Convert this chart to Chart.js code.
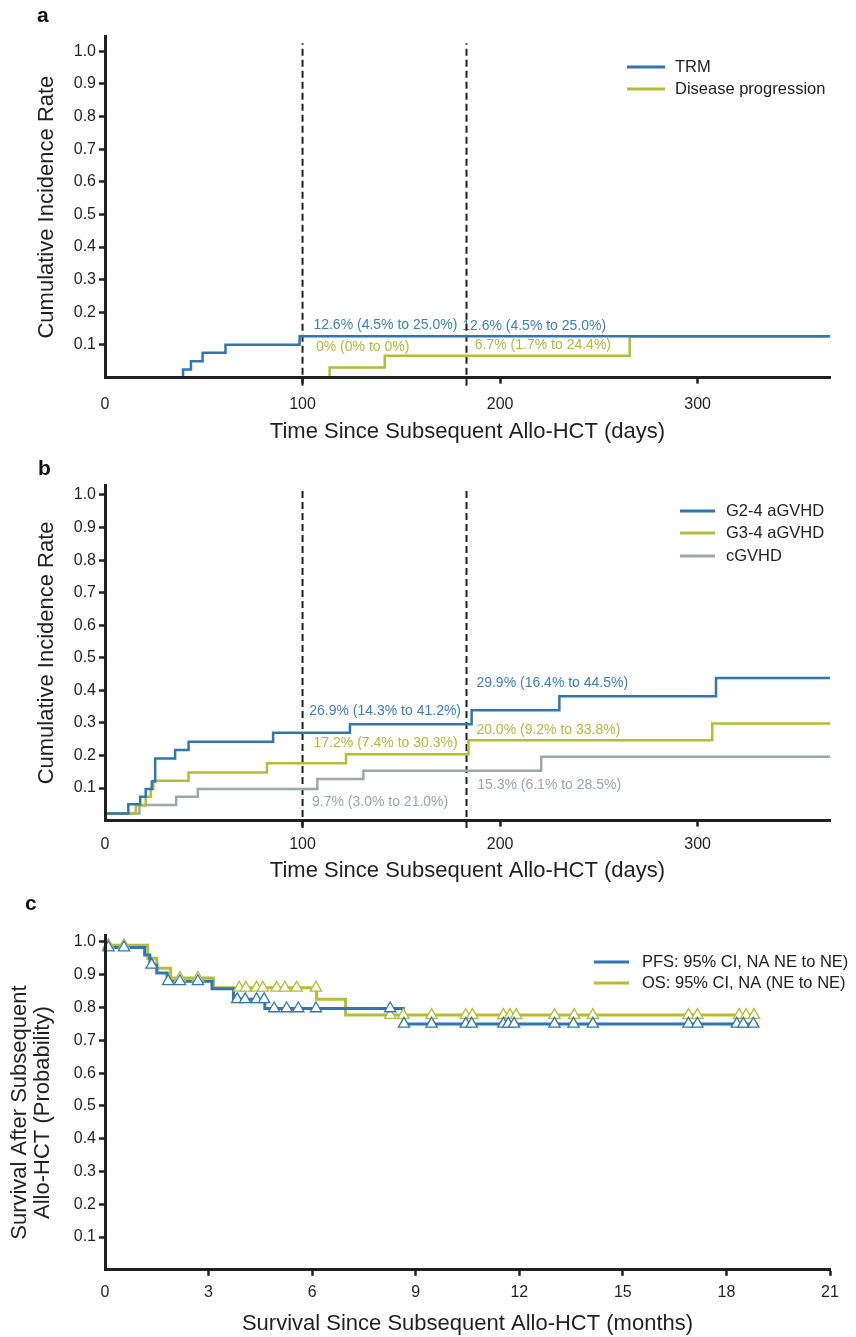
<!DOCTYPE html>
<html>
<head>
<meta charset="utf-8">
<script src="https://cdn.jsdelivr.net/npm/chart.js@4.4.1/dist/chart.umd.min.js"></script>
<style>
  body { margin: 0; background: #fff; width: 856px; height: 1337px; position: relative; overflow: hidden; font-family: "Liberation Sans", Arial, sans-serif; }
  .panel { position: absolute; left: 0; width: 856px; }
  .tag { position: absolute; font-weight: bold; font-size: 21px; line-height: 21px; color: #111; }
</style>
</head>
<body>
<div class="panel" style="top:0;height:445px"><canvas id="chartA"></canvas></div>
<div class="panel" style="top:445px;height:445px"><canvas id="chartB"></canvas></div>
<div class="panel" style="top:890px;height:447px"><canvas id="chartC"></canvas></div>
<div class="tag" style="left:37px;top:4px">a</div>
<div class="tag" style="left:38px;top:457px">b</div>
<div class="tag" style="left:25px;top:892px">c</div>
<script>
// ---- data ----
// panel a: cumulative incidence (days)
const trmDays  = [0, 39.5, 43.5, 49.4, 61, 98.5, 367];
const trmRate  = [0, 0.025, 0.05, 0.076, 0.101, 0.127, 0.127];
const progDays = [0, 113.7, 141.6, 265.6, 367];
const progRate = [0, 0.031, 0.067, 0.126, 0.126];

// panel b: GVHD cumulative incidence (days)
const g24Days = [0, 11.8, 17.8, 20.6, 23.7, 25.4, 35.5, 42.3, 85.1, 124, 185.6, 230, 309.3, 367];
const g24Rate = [0.022, 0.05, 0.073, 0.097, 0.12, 0.191, 0.217, 0.242, 0.27, 0.296, 0.339, 0.382, 0.438, 0.438];
const g34Days = [0, 15.6, 20.6, 23.2, 24.5, 42.3, 82, 122, 184, 307.4, 367];
const g34Rate = [0.022, 0.046, 0.073, 0.097, 0.122, 0.148, 0.176, 0.204, 0.247, 0.298, 0.298];
const cgvDays = [0, 17.4, 36, 47, 107.5, 130.8, 220.8, 367];
const cgvRate = [0.022, 0.048, 0.073, 0.097, 0.128, 0.153, 0.196, 0.196];

// landmark days (dashed lines)
const landmarkDays = [100, 183];

// panel c: survival (months)
const pfsMonths = [0, 1.15, 1.3, 1.5, 1.8, 3.1, 3.72, 4.63, 8.64, 18.9];
const pfsSurv   = [0.983, 0.96, 0.93, 0.905, 0.88, 0.857, 0.825, 0.797, 0.75, 0.75];
const osMonths  = [0, 1.24, 1.5, 1.9, 3.14, 6.13, 6.97, 18.9];
const osSurv    = [0.99, 0.95, 0.92, 0.89, 0.86, 0.825, 0.777, 0.777];
const pfsCensor = [0.10, 0.55, 1.35, 1.83, 2.17, 2.69, 3.83, 4.06, 4.39, 4.61, 4.90, 5.26, 5.60, 6.11, 8.26, 8.66,
                   9.46, 10.45, 10.62, 11.54, 11.68, 11.85, 13.02, 13.57, 14.13, 16.90, 17.16, 18.30, 18.49, 18.78];
const osCensor  = [0.10, 0.55, 2.17, 2.69, 3.89, 4.08, 4.39, 4.57, 4.97, 5.21, 5.55, 6.11, 8.26, 8.64,
                   9.46, 10.45, 10.64, 11.54, 11.73, 11.91, 13.02, 13.59, 14.13, 16.90, 17.16, 18.37, 18.57, 18.80];

// ---- styles ----
const FONT = '"Liberation Sans", Arial, Helvetica, sans-serif';
const INK = '#231f20';
const BLUE = '#2e77b3', OLIVE = '#b6bc36', GREY = '#9ba8a9';
const BLUE_T = '#3b7fbf', OLIVE_T = '#b3b93a', GREY_T = '#9aa6a7';

function stepData(xs, ys) { return xs.map((x, i) => ({ x: x, y: ys[i] })); }
function valueAt(xs, ys, t) {
  let v = ys[0];
  xs.forEach((x, i) => { if (x <= t) v = ys[i]; });
  return v;
}

function stepLine(label, xs, ys, color, width) {
  return {
    label: label, data: stepData(xs, ys), stepped: true,
    borderColor: color, borderWidth: width, borderJoinStyle: 'miter',
    pointRadius: 0, fill: false
  };
}

function dashLine(day, y0, y1) {
  return {
    data: [{ x: day, y: y0 }, { x: day, y: y1 }],
    borderColor: INK, borderWidth: 2, borderDash: [7, 4],
    pointRadius: 0, clip: false
  };
}

function censorSet(times, xs, ys, color) {
  return {
    data: times.map(t => ({ x: t, y: valueAt(xs, ys, t) })),
    showLine: false, pointStyle: 'triangle', pointRadius: 6.5,
    pointBorderWidth: 1.3, pointBackgroundColor: '#fff', pointBorderColor: color,
    clip: false
  };
}

const hideZero = c => (c.tick && c.tick.value === 0) ? 'rgba(0,0,0,0)' : INK;

function yAxis(max, text, titlePad, lineHeight) {
  return {
    type: 'linear', min: 0, max: max,
    afterFit: s => { s.width = 105; },
    border: { display: true, color: INK, width: 3, z: 1 },
    grid: { drawOnChartArea: false, drawTicks: true, tickLength: 6, tickWidth: 2.5, tickColor: hideZero, z: 1 },
    ticks: {
      stepSize: 0.1, includeBounds: false, padding: 3, color: INK,
      font: { family: FONT, size: 16 },
      callback: v => v === 0 ? '' : v.toFixed(1)
    },
    title: { display: !!text, text: text || '', color: INK, font: { family: FONT, size: 22, lineHeight: lineHeight }, padding: { top: titlePad, bottom: 0 } }
  };
}

function xAxis(max, step, text, height, tickPad, titlePad) {
  return {
    type: 'linear', min: 0, max: max,
    afterFit: s => { s.height = height; },
    border: { display: true, color: INK, width: 3, z: 1 },
    grid: { drawOnChartArea: false, drawTicks: true, tickLength: 6, tickWidth: 2.5, tickColor: hideZero, z: 1 },
    ticks: { stepSize: step, includeBounds: false, padding: tickPad, color: INK, maxRotation: 0, font: { family: FONT, size: 16 } },
    title: { display: true, text: text, color: INK, font: { family: FONT, size: 22 }, padding: { top: 0, bottom: titlePad } }
  };
}

// annotations (in data units), legend rows and optional rotated y title (canvas px)
function overlay(notes, legend, yTitle) {
  return {
    id: 'overlay',
    beforeDatasetsDraw(chart) {
      const { ctx, scales } = chart;
      ctx.save();
      ctx.font = '14px ' + FONT;
      ctx.textAlign = 'left';
      ctx.textBaseline = 'middle';
      notes.forEach(n => {
        ctx.fillStyle = n.color;
        ctx.fillText(n.text, scales.x.getPixelForValue(n.x), scales.y.getPixelForValue(n.y));
      });
      ctx.restore();
    },
    afterDraw(chart) {
      const ctx = chart.ctx;
      ctx.save();
      ctx.font = '16.5px ' + FONT;
      ctx.textAlign = 'left';
      ctx.textBaseline = 'middle';
      legend.items.forEach((idx, k) => {
        const ds = chart.data.datasets[idx];
        const y = legend.rows[k];
        ctx.strokeStyle = ds.borderColor;
        ctx.lineWidth = 3;
        ctx.beginPath();
        ctx.moveTo(legend.x0, y);
        ctx.lineTo(legend.x1, y);
        ctx.stroke();
        ctx.fillStyle = '#222';
        ctx.fillText(ds.label, legend.tx, y);
      });
      if (yTitle) {
        const area = chart.chartArea;
        const cy = (area.top + area.bottom) / 2 + yTitle.shift;
        ctx.font = '22px ' + FONT;
        ctx.textAlign = 'center';
        ctx.fillStyle = INK;
        yTitle.lines.forEach((line, k) => {
          ctx.save();
          ctx.translate(yTitle.xs[k], cy);
          ctx.rotate(-Math.PI / 2);
          ctx.fillText(line, 0, 0);
          ctx.restore();
        });
      }
      ctx.restore();
    }
  };
}

const baseOptions = (top, yA, xA) => ({
  responsive: true,
  maintainAspectRatio: false,
  animation: false,
  layout: { padding: { top: top, right: 26, left: 0, bottom: 0 } },
  plugins: { legend: { display: false }, tooltip: { enabled: false } },
  scales: { x: xA, y: yA }
});

// Panel a
const ctxA = document.getElementById('chartA').getContext('2d');
const chartA = new Chart(ctxA, {
  type: 'line',
  data: {
    datasets: [
      stepLine('TRM', trmDays, trmRate, BLUE, 2.5),
      stepLine('Disease progression', progDays, progRate, OLIVE, 2.5),
      dashLine(landmarkDays[0], -0.025, 1.025),
      dashLine(landmarkDays[1], -0.025, 1.025)
    ]
  },
  options: baseOptions(36.6,
    yAxis(1.045, 'Cumulative Incidence Rate', 34, 1.2),
    xAxis(367, 100, 'Time Since Subsequent Allo-HCT (days)', 67.4, 11.8, 0)),
  plugins: [overlay([
    { text: '12.6% (4.5% to 25.0%)', x: 105.5, y: 0.161, color: BLUE_T },
    { text: '12.6% (4.5% to 25.0%)', x: 180.8, y: 0.159, color: BLUE_T },
    { text: '0% (0% to 0%)', x: 106.8, y: 0.092, color: OLIVE_T },
    { text: '6.7% (1.7% to 24.4%)', x: 187.2, y: 0.098, color: OLIVE_T }
  ], { items: [0, 1], rows: [67, 89], x0: 627, x1: 665, tx: 675 })]
});

// Panel b
const ctxB = document.getElementById('chartB').getContext('2d');
const chartB = new Chart(ctxB, {
  type: 'line',
  data: {
    datasets: [
      stepLine('G2-4 aGVHD', g24Days, g24Rate, BLUE, 2.5),
      stepLine('G3-4 aGVHD', g34Days, g34Rate, OLIVE, 2.5),
      stepLine('cGVHD', cgvDays, cgvRate, GREY, 2.5),
      dashLine(landmarkDays[0], -0.023, 1.015),
      dashLine(landmarkDays[1], -0.023, 1.015)
    ]
  },
  options: baseOptions(40.2,
    yAxis(1.03, 'Cumulative Incidence Rate', 34, 1.2),
    xAxis(367, 100, 'Time Since Subsequent Allo-HCT (days)', 69.4, 8.8, 5.8)),
  plugins: [overlay([
    { text: '26.9% (14.3% to 41.2%)', x: 103.4, y: 0.337, color: BLUE_T },
    { text: '17.2% (7.4% to 30.3%)', x: 105.6, y: 0.237, color: OLIVE_T },
    { text: '9.7% (3.0% to 21.0%)', x: 104.8, y: 0.058, color: GREY_T },
    { text: '29.9% (16.4% to 44.5%)', x: 188, y: 0.422, color: BLUE_T },
    { text: '20.0% (9.2% to 33.8%)', x: 188, y: 0.278, color: OLIVE_T },
    { text: '15.3% (6.1% to 28.5%)', x: 188.4, y: 0.109, color: GREY_T }
  ], { items: [0, 1, 2], rows: [66, 88, 111], x0: 680, x1: 715, tx: 726 })]
});

// Panel c
const ctxC = document.getElementById('chartC').getContext('2d');
const chartC = new Chart(ctxC, {
  type: 'line',
  data: {
    datasets: [
      censorSet(pfsCensor, pfsMonths, pfsSurv, BLUE),
      censorSet(osCensor, osMonths, osSurv, OLIVE),
      stepLine('PFS: 95% CI, NA NE to NE)', pfsMonths, pfsSurv, BLUE, 3),
      stepLine('OS: 95% CI, NA (NE to NE)', osMonths, osSurv, OLIVE, 3)
    ]
  },
  options: baseOptions(45.4,
    yAxis(1.02, null, 0, 1.2),
    xAxis(21, 3, 'Survival Since Subsequent Allo-HCT (months)', 67.2, 7.6, 0)),
  plugins: [overlay([], { items: [2, 3], rows: [72, 93], x0: 594, x1: 629, tx: 642 },
    { lines: ['Survival After Subsequent', 'Allo-HCT (Probability)'], xs: [20, 43], shift: 10 })]
});
</script>
</body>
</html>
